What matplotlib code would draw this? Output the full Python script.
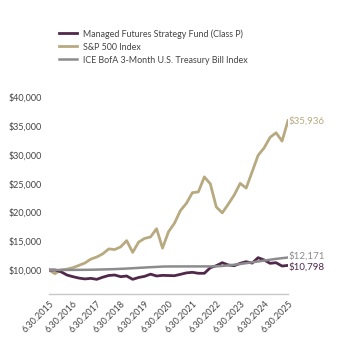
import matplotlib.pyplot as plt
from matplotlib.ticker import FuncFormatter

# growth of $10,000, quarterly from 6.30.2015 to 6.30.2025
fund = [10000, 10000, 9700, 9130, 8840, 8600, 8450, 8550, 8380, 8750,
        9050, 9130, 8840, 8960, 8380, 8700, 8900, 9280, 8960, 9070,
        9040, 9010, 9250, 9500, 9600, 9430, 9430, 10400, 10750, 11270,
        10870, 10750, 11160, 11440, 11200, 12140, 11740, 11160, 11270, 10690,
        10798]
sp500 = [10000, 9356, 10015, 10150, 10399, 10800, 11212, 11893, 12260, 12810,
         13660, 13556, 14021, 15102, 13060, 14843, 15481, 15744, 17172, 13806,
         16642, 18128, 20331, 21585, 23431, 23567, 26166, 24963, 20944, 19922,
         21428, 23035, 25048, 24229, 27061, 29919, 31200, 33038, 33834, 32389,
         35936]
tbill = [10000, 10001, 10004, 10011, 10019, 10027, 10033, 10045, 10068, 10095,
         10123, 10158, 10203, 10250, 10308, 10369, 10431, 10490, 10537, 10596,
         10612, 10616, 10619, 10622, 10623, 10625, 10626, 10627, 10640, 10705,
         10799, 10917, 11045, 11190, 11340, 11487, 11636, 11789, 11933, 12055,
         12171]
tick_labels = ["6.30.2015", "6.30.2016", "6.30.2017", "6.30.2018", "6.30.2019", "6.30.2020",
               "6.30.2021", "6.30.2022", "6.30.2023", "6.30.2024", "6.30.2025"]
names = ["Managed Futures Strategy Fund (Class P)", "S&P 500 Index",
         "ICE BofA 3-Month U.S. Treasury Bill Index"]

c_fund = "#50284a"
c_sp = "#b8aa80"
c_tb = "#8c8c8e"
txt = "#444444"

plt.rcParams['font.family'] = ['Lato', 'DejaVu Sans']

fig = plt.figure(figsize=(3.48, 3.40), dpi=100)
ax = fig.add_axes([0.1408, 0.1353, 0.6868, 0.588])

x = list(range(len(fund)))
l1, = ax.plot(x, fund, color=c_fund, lw=2.0, zorder=3)
l2, = ax.plot(x, sp500, color=c_sp, lw=2.0, zorder=2)
l3, = ax.plot(x, tbill, color=c_tb, lw=1.8, zorder=4)

ax.set_xlim(0, 40)
ax.set_ylim(5833, 40553)
ax.set_yticks([10000, 15000, 20000, 25000, 30000, 35000, 40000])
ax.yaxis.set_major_formatter(FuncFormatter(lambda v, p: "${:,.0f}".format(v)))
ax.set_xticks(range(0, 41, 4))
ax.set_xticklabels(tick_labels, rotation=45, ha='right', rotation_mode='anchor')
ax.tick_params(axis='both', length=0, labelsize=6.5, colors=txt)
ax.tick_params(axis='y', pad=5)
ax.tick_params(axis='x', pad=4)

for s in ['top', 'right', 'left']:
    ax.spines[s].set_visible(False)
ax.spines['bottom'].set_color("#c8c8c8")
ax.spines['bottom'].set_linewidth(1.0)

# end labels
ax.text(40.1, sp500[-1], "${:,}".format(sp500[-1]), color=c_sp, fontsize=7, va='center', ha='left')
ax.text(40.1, tbill[-1] + 300, "${:,}".format(tbill[-1]), color=c_tb, fontsize=7, va='center', ha='left')
ax.text(40.1, fund[-1] - 300, "${:,}".format(fund[-1]), color=c_fund, fontsize=7, va='center', ha='left')

fig.legend([l1, l2, l3], names, loc='upper left', bbox_to_anchor=(0.158, 0.925),
           frameon=False, fontsize=6.4, handlelength=2.1, handletextpad=0.65,
           labelspacing=0.45, labelcolor=txt, borderaxespad=0)

fig.savefig("out.png", dpi=100)
